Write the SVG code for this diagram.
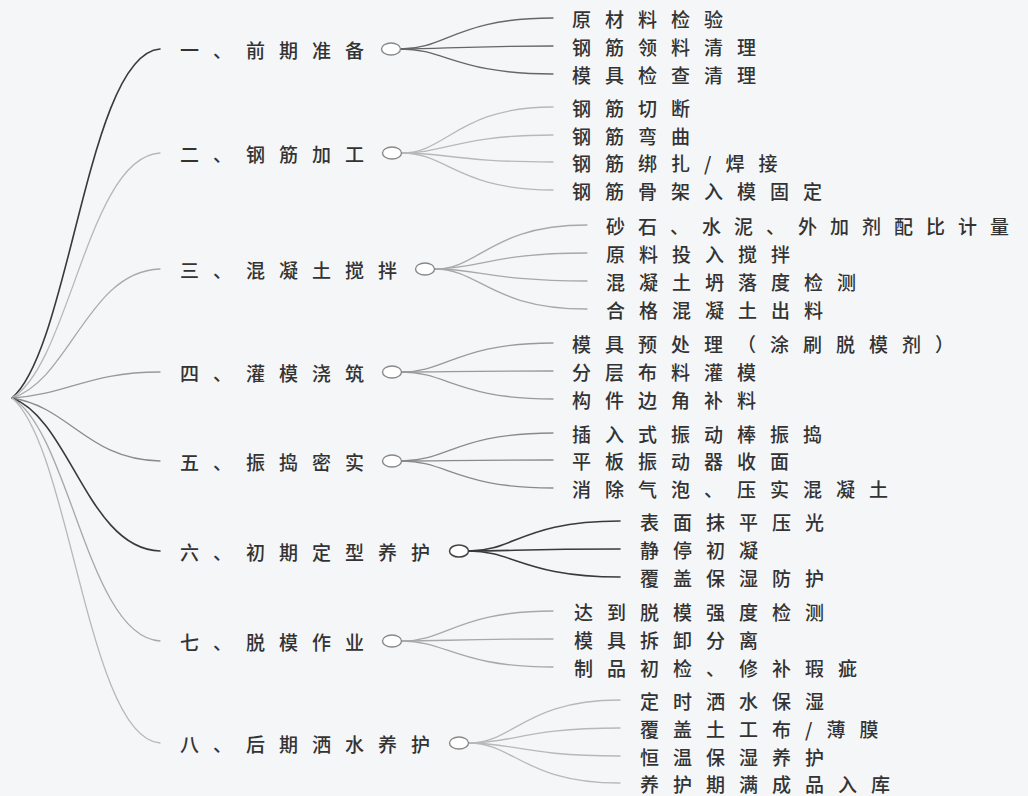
<svg xmlns="http://www.w3.org/2000/svg" width="1028" height="796" viewBox="0 0 1028 796">
<style>
text{font-family:"Noto Sans CJK SC","Noto Sans",sans-serif;font-size:19px;font-weight:500;fill:#333;letter-spacing:14px;dominant-baseline:central}
.c{fill:none;stroke-linecap:round}
.dk{stroke:#3a3a3a;stroke-width:1.6}
.dm{stroke:#666;stroke-width:1.3}
.g1{stroke:#b8b8b8;stroke-width:1.3}
.g2{stroke:#a8a8a8;stroke-width:1.3}
.g3{stroke:#999;stroke-width:1.3}
.g4{stroke:#8a8a8a;stroke-width:1.3}
.ring{fill:#fff;stroke:#888;stroke-width:1.4}
.ringd{fill:#fff;stroke:#444;stroke-width:1.5}
</style>
<rect width="1028" height="796" fill="#f5f6f8"/>
<g id="connectors">
<path class="c dk" d="M12,398 C70,349 88,54 160,49"/>
<path class="c g1" d="M12,398 C70,364 88,157 160,153"/>
<path class="c g2" d="M12,398 C70,380 88,271 160,269"/>
<path class="c g3" d="M12,398 C70,394 88,372 160,372"/>
<path class="c g4" d="M12,398 C70,407 88,460 160,461"/>
<path class="c dk" d="M12,398 C70,419 88,549 160,551"/>
<path class="c g2" d="M12,398 C70,432 88,637 160,641"/>
<path class="c g1" d="M12,398 C70,446 88,738 160,743"/>
<path class="c dm" d="M401,49 C446,49 457,18 553,18"/>
<path class="c dm" d="M401,49 C446,49 457,46 553,46"/>
<path class="c dm" d="M401,49 C446,49 457,74 553,74"/>
<path class="c g1" d="M402,153 C447,153 458,107 553,107"/>
<path class="c g1" d="M402,153 C447,153 458,135 553,135"/>
<path class="c g1" d="M402,153 C447,153 458,162 553,162"/>
<path class="c g1" d="M402,153 C447,153 458,190 553,190"/>
<path class="c g2" d="M435,269 C480,269 491,225 587,225"/>
<path class="c g2" d="M435,269 C480,269 491,253 587,253"/>
<path class="c g2" d="M435,269 C480,269 491,281 587,281"/>
<path class="c g2" d="M435,269 C480,269 491,309 587,309"/>
<path class="c g3" d="M402,372 C447,372 458,343 553,343"/>
<path class="c g3" d="M402,372 C447,372 458,371 553,371"/>
<path class="c g3" d="M402,372 C447,372 458,399 553,399"/>
<path class="c g4" d="M402,461 C447,461 458,433 553,433"/>
<path class="c g4" d="M402,461 C447,461 458,460 553,460"/>
<path class="c g4" d="M402,461 C447,461 458,488 553,488"/>
<path class="c dk" d="M469,551 C514,551 525,521 620,521"/>
<path class="c dk" d="M469,551 C514,551 525,549 620,549"/>
<path class="c dk" d="M469,551 C514,551 525,577 620,577"/>
<path class="c g2" d="M402,641 C447,641 458,611 553,611"/>
<path class="c g2" d="M402,641 C447,641 458,639 553,639"/>
<path class="c g2" d="M402,641 C447,641 458,667 553,667"/>
<path class="c g1" d="M469,743 C514,743 525,700 620,700"/>
<path class="c g1" d="M469,743 C514,743 525,728 620,728"/>
<path class="c g1" d="M469,743 C514,743 525,756 620,756"/>
<path class="c g1" d="M469,743 C514,743 525,783 620,783"/>
</g>
<g id="b1"><text x="180" y="49">一、前期准备</text><ellipse class="ring" cx="391" cy="49" rx="9.5" ry="6"/></g>
<g id="b1-leaves"><text x="572" y="18">原材料检验</text><text x="572" y="46">钢筋领料清理</text><text x="572" y="74">模具检查清理</text></g>
<g id="b2"><text x="180" y="153">二、钢筋加工</text><ellipse class="ring" cx="392" cy="153" rx="9.5" ry="6"/></g>
<g id="b2-leaves"><text x="572" y="107">钢筋切断</text><text x="572" y="135">钢筋弯曲</text><text x="572" y="162">钢筋绑扎/焊接</text><text x="572" y="190">钢筋骨架入模固定</text></g>
<g id="b3"><text x="180" y="269">三、混凝土搅拌</text><ellipse class="ring" cx="425" cy="269" rx="9.5" ry="6"/></g>
<g id="b3-leaves"><text x="606" y="225" style="letter-spacing:13px">砂石、水泥、外加剂配比计量</text><text x="606" y="253">原料投入搅拌</text><text x="606" y="281">混凝土坍落度检测</text><text x="606" y="309">合格混凝土出料</text></g>
<g id="b4"><text x="180" y="372">四、灌模浇筑</text><ellipse class="ring" cx="392" cy="372" rx="9.5" ry="6"/></g>
<g id="b4-leaves"><text x="572" y="343">模具预处理（涂刷脱模剂）</text><text x="572" y="371">分层布料灌模</text><text x="572" y="399">构件边角补料</text></g>
<g id="b5"><text x="180" y="461">五、振捣密实</text><ellipse class="ring" cx="392" cy="461" rx="9.5" ry="6"/></g>
<g id="b5-leaves"><text x="572" y="433">插入式振动棒振捣</text><text x="572" y="460">平板振动器收面</text><text x="572" y="488">消除气泡、压实混凝土</text></g>
<g id="b6"><text x="180" y="551">六、初期定型养护</text><ellipse class="ringd" cx="459" cy="551" rx="9.5" ry="6"/></g>
<g id="b6-leaves"><text x="640" y="521">表面抹平压光</text><text x="640" y="549">静停初凝</text><text x="640" y="577">覆盖保湿防护</text></g>
<g id="b7"><text x="180" y="641">七、脱模作业</text><ellipse class="ring" cx="392" cy="641" rx="9.5" ry="6"/></g>
<g id="b7-leaves"><text x="574" y="611">达到脱模强度检测</text><text x="574" y="639">模具拆卸分离</text><text x="574" y="667">制品初检、修补瑕疵</text></g>
<g id="b8"><text x="180" y="743">八、后期洒水养护</text><ellipse class="ring" cx="459" cy="743" rx="9.5" ry="6"/></g>
<g id="b8-leaves"><text x="640" y="700">定时洒水保湿</text><text x="640" y="728">覆盖土工布/薄膜</text><text x="640" y="756">恒温保湿养护</text><text x="640" y="783">养护期满成品入库</text></g>
</svg>
